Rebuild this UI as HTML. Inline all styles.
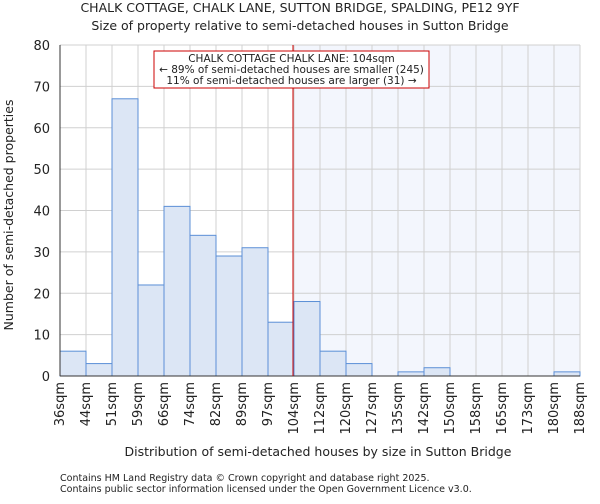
<!DOCTYPE html>
<html><head><meta charset="utf-8"><style>
body{margin:0;background:#fff;font-family:"DejaVu Sans","Liberation Sans",sans-serif;}
svg text{font-family:"DejaVu Sans","Liberation Sans",sans-serif;fill:#222;}
</style></head><body>
<svg id="chart" width="600" height="500" viewBox="0 0 600 500" xmlns="http://www.w3.org/2000/svg">
<text x="300" y="12" font-size="12.5" text-anchor="middle">CHALK COTTAGE, CHALK LANE, SUTTON BRIDGE, SPALDING, PE12 9YF</text>
<text x="300" y="30" font-size="12.5" text-anchor="middle">Size of property relative to semi-detached houses in Sutton Bridge</text>
<g id="plot"></g>
<text x="318" y="456" font-size="12.5" text-anchor="middle">Distribution of semi-detached houses by size in Sutton Bridge</text>
<text transform="translate(13,215) rotate(-90)" font-size="12.5" text-anchor="middle">Number of semi-detached properties</text>
<text x="60" y="481" font-size="9.5" fill="#555">Contains HM Land Registry data © Crown copyright and database right 2025.</text>
<text x="60" y="492" font-size="9.5" fill="#555">Contains public sector information licensed under the Open Government Licence v3.0.</text>
</svg>
<script>
const categories = ["36sqm","44sqm","51sqm","59sqm","66sqm","74sqm","82sqm","89sqm","97sqm","104sqm","112sqm","120sqm","127sqm","135sqm","142sqm","150sqm","158sqm","165sqm","173sqm","180sqm","188sqm"];
const counts = [6,3,67,22,41,34,29,31,13,18,6,3,0,1,2,0,0,0,0,1];
const yTicks = [0,10,20,30,40,50,60,70,80];
const markerIndex = 9;
const annotation = ["CHALK COTTAGE CHALK LANE: 104sqm","← 89% of semi-detached houses are smaller (245)","11% of semi-detached houses are larger (31) →"];

const NS="http://www.w3.org/2000/svg";
const g=document.getElementById('plot');
const X0=60,X1=580,Y0=376,Y1=45,yMax=80;
const bw=(X1-X0)/counts.length;
const x=i=>X0+i*bw;
const y=v=>Y0-(v/yMax)*(Y0-Y1);
function mk(tag,attrs){const e=document.createElementNS(NS,tag);for(const k in attrs)e.setAttribute(k,attrs[k]);g.appendChild(e);return e;}
let sh=mk('rect',{x:x(markerIndex),y:Y1,width:X1-x(markerIndex),height:Y0-Y1,fill:'#f3f6fd'});


for(let i=0;i<=counts.length;i++){let l=mk('line',{x1:x(i),x2:x(i),y1:Y1,y2:Y0,stroke:'#d0d0d0','stroke-width':1});

}
yTicks.forEach(t=>{let l=mk('line',{x1:X0,x2:X1,y1:y(t),y2:y(t),stroke:'#d0d0d0','stroke-width':1});


let tx=mk('text',{x:X0-10,y:y(t)+5,'font-size':13,'text-anchor':'end'});tx.textContent=t;

});
counts.forEach((c,i)=>{let r=mk('rect',{x:x(i),y:y(c),width:bw,height:Y0-y(c),fill:'#dce6f5',stroke:'#5b8fd6','stroke-width':1});

});
categories.forEach((c,i)=>{let t=mk('text',{transform:`translate(${x(i)+4},382) rotate(-90)`,'font-size':13,'text-anchor':'end'});t.textContent=c;

});
let ax=mk('line',{x1:X0,x2:X1,y1:Y0,y2:Y0,stroke:'#333'});


let ay=mk('line',{x1:X0,x2:X0,y1:Y1,y2:Y0,stroke:'#333'});


let m=mk('line',{x1:x(markerIndex)-1,x2:x(markerIndex)-1,y1:Y1,y2:Y0,stroke:'#cc0000','stroke-width':1});


let box=mk('rect',{x:154,y:51,width:275,height:37,fill:'#fff',stroke:'#cc0000','stroke-width':1});


annotation.forEach((s,i)=>{let t=mk('text',{x:291.5,y:62+i*11,'font-size':10.5,'text-anchor':'middle'});t.textContent=s;

});
</script>
</body></html>
